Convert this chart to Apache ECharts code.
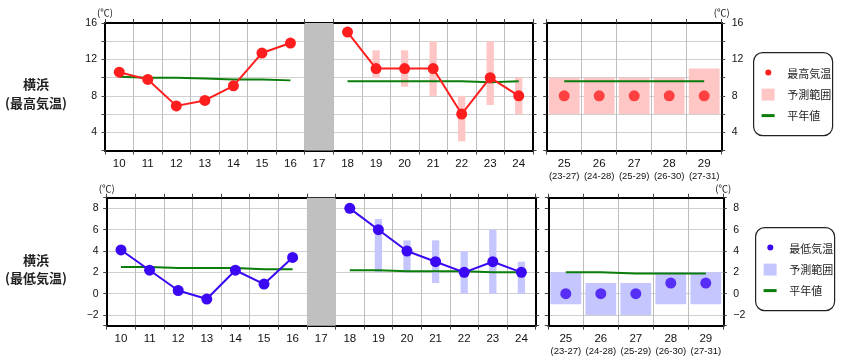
<!DOCTYPE html>
<html>
<head>
<meta charset="utf-8">
<script src="https://cdn.jsdelivr.net/npm/echarts@6/dist/echarts.min.js"></script>
<style>
html,body{margin:0;padding:0;background:#fff;}
#c{width:843px;height:362px;}
</style>
</head>
<body>
<div id="c"></div>
<script>
// ---- data ----
const days = ['10','11','12','13','14','15','16','17','18','19','20','21','22','23','24'];
const shadedDay = '17';
const weekDays = ['25','26','27','28','29'];
const weekSpans = ['(23-27)','(24-28)','(25-29)','(26-30)','(27-31)'];

const maxTemp   = [10.6, 9.8, 6.9, 7.5, 9.1, 12.7, 13.8, null, 15, 11, 11, 11, 6, 10, 8];
const maxNormal = [10.1, 10.0, 10.0, 9.9, 9.8, 9.8, 9.7, null, 9.6, 9.6, 9.6, 9.6, 9.6, 9.5, 9.6];
const maxLow    = [null, null, null, null, null, null, null, null, null, 10, 9, 8, 3, 7, 6];
const maxHigh   = [null, null, null, null, null, null, null, null, null, 13, 13, 14, 8, 14, 10];
const maxWeek       = [8, 8, 8, 8, 8];
const maxWeekLow    = [6, 6, 6, 6, 6];
const maxWeekHigh   = [10, 10, 10, 10, 11];
const maxWeekNormal = [9.6, 9.6, 9.6, 9.6, 9.6];

const minTemp   = [4.1, 2.2, 0.3, -0.5, 2.2, 0.9, 3.4, null, 8, 6, 4, 3, 2, 3, 2];
const minNormal = [2.5, 2.5, 2.4, 2.4, 2.4, 2.3, 2.3, null, 2.2, 2.2, 2.1, 2.1, 2.1, 2.0, 2.0];
const minLow    = [null, null, null, null, null, null, null, null, null, 2, 2, 1, 0, 0, 0];
const minHigh   = [null, null, null, null, null, null, null, null, null, 7, 5, 5, 4, 6, 3];
const minWeek       = [0, 0, 0, 1, 1];
const minWeekLow    = [-1, -2, -2, -1, -1];
const minWeekHigh   = [2, 1, 1, 2, 2];
const minWeekNormal = [2.0, 2.0, 1.9, 1.9, 1.9];

// ---- styles ----
const RED = '#ff1e1e', PINK = '#ffc6c6';
const BLUE = '#3a08f2', LBLUE = '#c6c6ff';
const GREEN = '#0a7d0a', GRAY = '#c0c0c0';
const NUMFONT = 'Liberation Sans';
const JPFONT = 'Noto Sans CJK JP';

const chart = echarts.init(document.getElementById('c'), null, {renderer: 'canvas'});

const grids = [
  {left: 105, top: 23, width: 428, height: 127.5},
  {left: 546.7, top: 23, width: 175, height: 127.5},
  {left: 106.7, top: 197.7, width: 429, height: 128},
  {left: 548.3, top: 197.7, width: 175, height: 128}
];

function xAx(gi, data, pos, labelFmt) {
  return {
    type: 'category', gridIndex: gi, data: data, position: pos,
    boundaryGap: true,
    axisLine: {show: true, onZero: false, lineStyle: {color: '#000', width: 2}},
    axisTick: {show: true, length: 4, interval: 0, lineStyle: {color: '#444', width: 1}},
    axisLabel: labelFmt ? {
      show: true, interval: 0, margin: 7, formatter: labelFmt,
      rich: {
        a: {fontSize: 11.5, fontFamily: NUMFONT, color: '#111', lineHeight: 13},
        b: {fontSize: 9.5, fontFamily: NUMFONT, color: '#111', lineHeight: 12}
      }
    } : {show: false},
    splitLine: pos === 'bottom' ? {show: true, interval: 0, lineStyle: {color: '#bdbdbd', width: 1}} : {show: false}
  };
}

function yAx(gi, pos, isTop, showLabel, name) {
  const o = {
    type: 'value', gridIndex: gi, position: pos,
    axisLine: {show: true, onZero: false, lineStyle: {color: '#000', width: 2}},
    axisTick: {show: true, length: 3.5, lineStyle: {color: '#444', width: 1}},
    splitLine: {show: pos === 'left', lineStyle: {color: '#cfcfcf', width: 1.2}},
    axisLabel: {
      show: showLabel, margin: pos === 'left' ? 8 : 10,
      fontSize: 10.5, fontFamily: NUMFONT, color: '#111',
      formatter: isTop
        ? (v => (v % 4 === 0 && v >= 4) ? String(v) : '')
        : (v => (v % 2 === 0) ? (v < 0 ? '\u2212' + (-v) : String(v)) : '')
    }
  };
  if (isTop) { o.min = 2; o.max = 16; o.interval = 2; }
  else { o.min = -3; o.max = 9; o.splitNumber = 6; }
  if (name) {
    o.name = name; o.nameLocation = 'end'; o.nameGap = 5;
    o.nameTextStyle = {fontSize: 9.5, fontFamily: JPFONT, color: '#111', align: 'center', verticalAlign: 'bottom'};
  }
  return o;
}

const weekFmt = (v, i) => '{a|' + v + '}\n{b|' + weekSpans[i] + '}';
const dayFmt = v => '{a|' + v + '}';

const xAxes = [
  xAx(0, days, 'bottom', dayFmt), xAx(0, days, 'top', null),
  xAx(1, weekDays, 'bottom', weekFmt), xAx(1, weekDays, 'top', null),
  xAx(2, days, 'bottom', dayFmt), xAx(2, days, 'top', null),
  xAx(3, weekDays, 'bottom', weekFmt), xAx(3, weekDays, 'top', null)
];
const yAxes = [
  yAx(0, 'left', true, true, '(℃)'), yAx(0, 'right', true, false),
  yAx(1, 'left', true, false), yAx(1, 'right', true, true, '(℃)'),
  yAx(2, 'left', false, true, '(℃)'), yAx(2, 'right', false, false),
  yAx(3, 'left', false, false), yAx(3, 'right', false, true, '(℃)')
];

function rangeData(low, high) {
  const out = [];
  for (let i = 0; i < low.length; i++) {
    if (low[i] != null && high[i] != null) out.push([i, low[i], high[i]]);
  }
  return out;
}

function rangeSeries(xi, yi, data, color, frac, fixedW) {
  return {
    type: 'custom', xAxisIndex: xi, yAxisIndex: yi, z: 1,
    encode: {x: 0, y: [1, 2]},
    data: data,
    renderItem: function (params, api) {
      const lo = api.coord([api.value(0), api.value(1)]);
      const hi = api.coord([api.value(0), api.value(2)]);
      const w = fixedW || api.size([1, 0])[0] * frac;
      return {
        type: 'rect',
        shape: {x: lo[0] - w / 2, y: hi[1], width: w, height: lo[1] - hi[1]},
        style: {fill: color}
      };
    }
  };
}

function shadeSeries(xi, yi) {
  return {
    type: 'custom', xAxisIndex: xi, yAxisIndex: yi, z: 1,
    data: [[days.indexOf(shadedDay)]],
    encode: {x: 0},
    renderItem: function (params, api) {
      const cs = params.coordSys;
      const c = api.coord([api.value(0), 0]);
      const w = api.size([1, 0])[0];
      return {
        type: 'rect',
        shape: {x: c[0] - w / 2, y: cs.y, width: w, height: cs.height},
        style: {fill: GRAY}
      };
    }
  };
}

function lineSeries(xi, yi, data, color, withSymbol, width) {
  return {
    type: 'line', xAxisIndex: xi, yAxisIndex: yi, data: data,
    z: withSymbol ? 4 : 3,
    connectNulls: false,
    symbol: withSymbol ? 'circle' : 'none', symbolSize: 11, showAllSymbol: true,
    itemStyle: {color: color},
    lineStyle: {color: color, width: width}
  };
}

function pointSeries(xi, yi, data, color) {
  return {
    type: 'scatter', xAxisIndex: xi, yAxisIndex: yi, data: data, z: 4,
    symbol: 'circle', symbolSize: 11, itemStyle: {color: color}
  };
}

const series = [
  shadeSeries(0, 0),
  rangeSeries(0, 0, rangeData(maxLow, maxHigh), PINK, 0, 7.3),
  lineSeries(0, 0, maxNormal, GREEN, false, 2),
  lineSeries(0, 0, maxTemp, RED, true, 2),
  rangeSeries(2, 2, rangeData(maxWeekLow, maxWeekHigh), PINK, 0.88),
  lineSeries(2, 2, maxWeekNormal, GREEN, false, 2),
  pointSeries(2, 2, maxWeek, RED),
  shadeSeries(4, 4),
  rangeSeries(4, 4, rangeData(minLow, minHigh), LBLUE, 0, 7.3),
  lineSeries(4, 4, minNormal, GREEN, false, 2),
  lineSeries(4, 4, minTemp, BLUE, true, 2),
  rangeSeries(6, 6, rangeData(minWeekLow, minWeekHigh), LBLUE, 0.88),
  lineSeries(6, 6, minWeekNormal, GREEN, false, 2),
  pointSeries(6, 6, minWeek, BLUE)
];

function legendGroup(x, y, mainColor, rangeColor, label) {
  const txt = {fontSize: 11, fontFamily: JPFONT, fill: '#222', verticalAlign: 'middle', align: 'left'};
  return {
    type: 'group', left: x, top: y,
    children: [
      {type: 'rect', shape: {x: 0, y: 0, width: 79, height: 83, r: 9}, style: {fill: '#fff', stroke: '#222', lineWidth: 1.2}},
      {type: 'circle', shape: {cx: 14.7, cy: 20, r: 3}, style: {fill: mainColor}},
      {type: 'text', x: 33.7, y: 21.5, style: Object.assign({text: label}, txt)},
      {type: 'rect', shape: {x: 8, y: 36, width: 13, height: 12}, style: {fill: rangeColor}},
      {type: 'text', x: 33.7, y: 42.5, style: Object.assign({text: '予測範囲'}, txt)},
      {type: 'line', shape: {x1: 8, y1: 63, x2: 21, y2: 63}, style: {stroke: GREEN, lineWidth: 3}},
      {type: 'text', x: 33.7, y: 63.5, style: Object.assign({text: '平年値'}, txt)}
    ]
  };
}

const titleStyle = {fontSize: 13, fontWeight: 'bold', fontFamily: JPFONT, fill: '#222', align: 'center', verticalAlign: 'middle'};
const graphics = [
  {type: 'text', x: 36, y: 84, style: Object.assign({text: '横浜'}, titleStyle)},
  {type: 'text', x: 36, y: 103, style: Object.assign({text: '(最高気温)'}, titleStyle)},
  {type: 'text', x: 36, y: 260, style: Object.assign({text: '横浜'}, titleStyle)},
  {type: 'text', x: 36, y: 278.5, style: Object.assign({text: '(最低気温)'}, titleStyle)},
  legendGroup(753, 52, RED, PINK, '最高気温'),
  legendGroup(755, 227, BLUE, LBLUE, '最低気温')
];

chart.setOption({
  animation: false,
  backgroundColor: '#fff',
  grid: grids,
  xAxis: xAxes,
  yAxis: yAxes,
  series: series,
  graphic: graphics
});
</script>
</body>
</html>
